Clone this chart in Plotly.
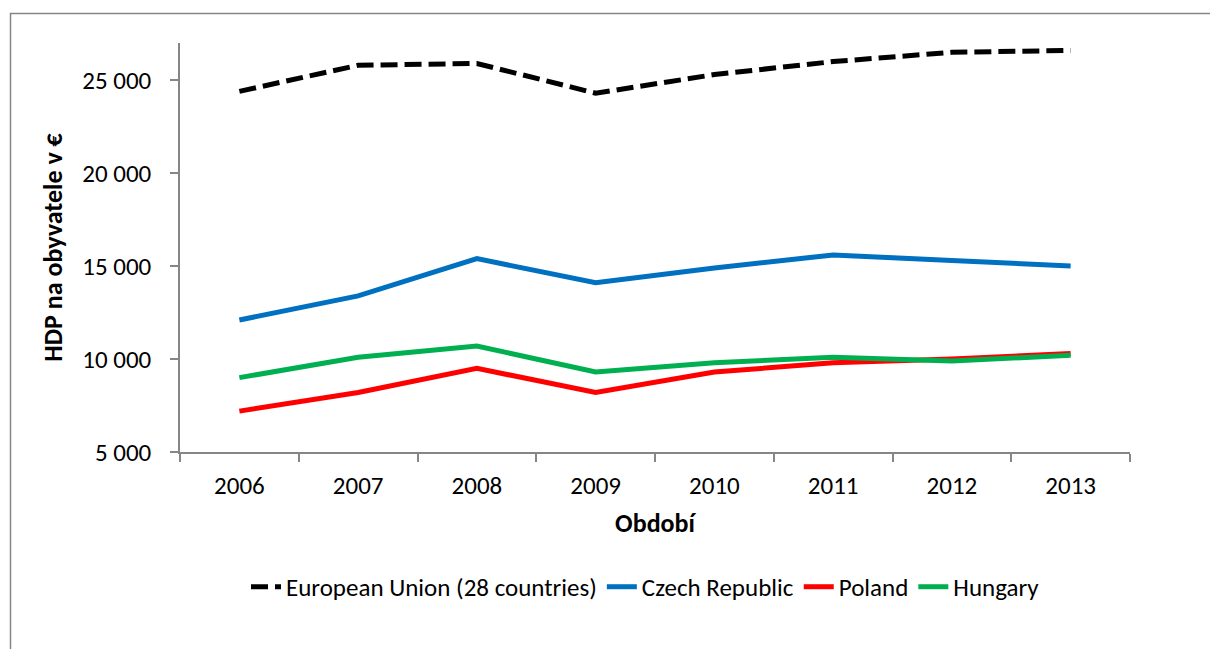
import plotly.graph_objects as go

years = ["2006", "2007", "2008", "2009", "2010", "2011", "2012", "2013"]
eu28 = [24400, 25800, 25900, 24300, 25300, 26000, 26500, 26600]
czech = [12100, 13400, 15400, 14100, 14900, 15600, 15300, 15000]
poland = [7200, 8200, 9500, 8200, 9300, 9800, 10000, 10300]
hungary = [9000, 10100, 10700, 9300, 9800, 10100, 9900, 10200]

series_names = ["European Union (28 countries)", "Czech Republic", "Poland", "Hungary"]
y_ticks = [5000, 10000, 15000, 20000, 25000]

FONT = "Calibri, Carlito, Lato, sans-serif"
AX = "#868686"
FS = 25
TFS = 26

fig = go.Figure()
fig.add_trace(go.Scatter(x=years, y=eu28, name=series_names[0], mode="lines",
                         line=dict(color="#000000", width=5, dash="17px,7px")))
fig.add_trace(go.Scatter(x=years, y=czech, name=series_names[1], mode="lines",
                         line=dict(color="#0070C0", width=5)))
fig.add_trace(go.Scatter(x=years, y=poland, name=series_names[2], mode="lines",
                         line=dict(color="#FF0000", width=5)))
fig.add_trace(go.Scatter(x=years, y=hungary, name=series_names[3], mode="lines",
                         line=dict(color="#00B050", width=5)))

fig.update_layout(
    width=1210, height=649,
    margin=dict(l=180, r=80, t=43, b=197),
    paper_bgcolor="white", plot_bgcolor="white",
    separators=", ",
    font=dict(family=FONT, size=FS, color="#000000"),
    showlegend=True,
    legend=dict(orientation="h", x=0.49, xanchor="center", y=-0.33, yanchor="middle",
                font=dict(family=FONT, size=FS, color="#000000"),
                itemwidth=30, tracegroupgap=0, bgcolor="rgba(0,0,0,0)"),
    xaxis=dict(type="category", range=[-0.5, 7.5], showgrid=False, showline=True,
               linecolor=AX, linewidth=1.5,
               ticks="outside", ticklen=8, tickcolor=AX, tickwidth=1.5, tickson="boundaries",
               tickfont=dict(family=FONT, size=FS), zeroline=False, ticklabelstandoff=10,
               title=dict(text="<b>Období</b>", font=dict(family=FONT, size=TFS), standoff=14)),
    yaxis=dict(range=[5000, 27000], tickvals=y_ticks, tickformat=",d", showgrid=False,
               showline=True, linecolor=AX, linewidth=1.5, ticks="outside", ticklen=8,
               tickcolor=AX, tickwidth=1.5, zeroline=False, ticklabelstandoff=14,
               tickfont=dict(family=FONT, size=FS),
               title=dict(text="<b>HDP na obyvatele v €</b>", font=dict(family=FONT, size=TFS), standoff=12)),
    shapes=[dict(type="rect", xref="paper", yref="paper",
                 x0=(10.5 - 180) / 950, x1=(1225 - 180) / 950,
                 y0=(452 - 670) / 409, y1=(452 - 13.5) / 409,
                 line=dict(color=AX, width=1.5), fillcolor="rgba(0,0,0,0)", layer="below")],
)

fig.write_html("out.html", config={"displayModeBar": False},
               post_script="document.body.style.margin='0';")
